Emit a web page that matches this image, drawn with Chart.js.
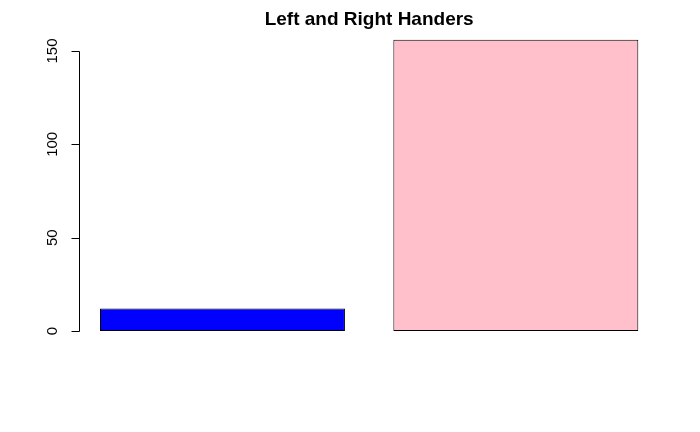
<!DOCTYPE html>
<html>
<head>
<meta charset="utf-8">
<script src="https://cdn.jsdelivr.net/npm/chart.js@4/dist/chart.umd.min.js"></script>
<style>
html,body{margin:0;padding:0;background:#fff;}
#wrap{width:700px;height:432px;}
</style>
</head>
<body>
<div id="wrap"><canvas id="c" width="700" height="432"></canvas></div>
<script>
const categories = ["Left", "Right"];
const counts = [12, 156];
const barColors = ["#0000FF", "#FFC0CB"];
const yTicks = [0, 50, 100, 150];
const titleText = "Left and Right Handers";

const rAxis = {
  id: 'rAxis',
  afterDraw(chart) {
    const ctx = chart.ctx;
    const x = chart.scales.x, y = chart.scales.y;
    const spacing = x.getPixelForValue(1) - x.getPixelForValue(0);
    const ax = Math.round(x.getPixelForValue(0) - spacing * 0.588 / 1.2) + 0.5;
    ctx.save();
    ctx.strokeStyle = '#000';
    ctx.lineWidth = 1;
    ctx.beginPath();
    ctx.moveTo(ax, Math.round(y.getPixelForValue(yTicks[0])) + 0.5);
    ctx.lineTo(ax, Math.round(y.getPixelForValue(yTicks[yTicks.length - 1])) + 0.5);
    yTicks.forEach(t => {
      const py = Math.round(y.getPixelForValue(t)) + 0.5;
      ctx.moveTo(ax, py);
      ctx.lineTo(ax - 8, py);
    });
    ctx.stroke();
    ctx.fillStyle = '#000';
    ctx.font = '15px "Liberation Sans", Arial, sans-serif';
    ctx.textAlign = 'center';
    ctx.textBaseline = 'middle';
    yTicks.forEach(t => {
      const py = y.getPixelForValue(t);
      ctx.save();
      ctx.translate(ax - 27, py);
      ctx.rotate(-Math.PI / 2);
      ctx.fillText(String(t), 0, 0);
      ctx.restore();
    });
    const cx = (x.getPixelForValue(0) + x.getPixelForValue(1)) / 2;
    ctx.font = 'bold 19px "Liberation Sans", Arial, sans-serif';
    ctx.textBaseline = 'middle';
    ctx.fillText(titleText, cx, 20);
    ctx.restore();
  }
};

new Chart(document.getElementById('c'), {
  type: 'bar',
  data: {
    labels: categories,
    datasets: [{
      data: counts,
      backgroundColor: barColors,
      borderColor: '#000',
      borderWidth: 1,
      borderSkipped: false,
      barPercentage: 0.835,
      categoryPercentage: 1
    }]
  },
  options: {
    responsive: false,
    animation: false,
    layout: { padding: { left: 75.8, right: 37.5, top: 28.2, bottom: 89.4 } },
    plugins: { legend: { display: false }, tooltip: { enabled: false }, title: { display: false } },
    scales: {
      x: { display: false, offset: true },
      y: { display: false, min: -6.24, max: 162.24 }
    }
  },
  plugins: [rAxis]
});
</script>
</body>
</html>
